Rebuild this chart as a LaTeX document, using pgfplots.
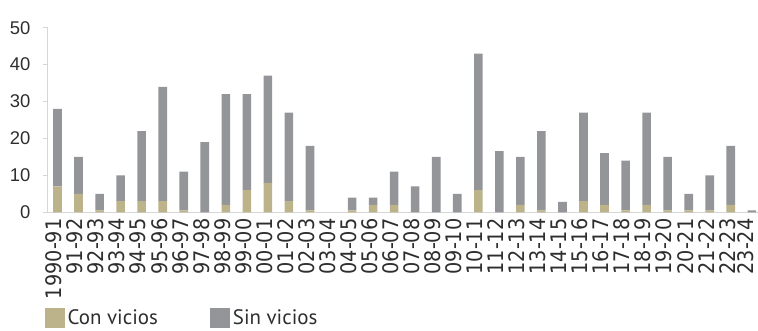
\documentclass[border=0pt]{standalone}
\usepackage{fontspec}
\setmainfont{Liberation Sans}
\newfontfamily\xlabfont{DejaVu Sans Condensed}
\newfontfamily\legfont{PT Sans}
\usepackage{pgfplots}
\usepackage{pgfplotstable}
\pgfplotsset{compat=1.18}

\definecolor{conv}{HTML}{BCB38A}
\definecolor{sinv}{HTML}{939598}
\definecolor{axisgray}{HTML}{D6D6D6}
\definecolor{txt}{HTML}{2E2E2E}

% Obras por campaña: con vicios / sin vicios
\pgfplotstableread{
x  con  sin
0  7    21
1  5    10
2  0.5  4.5
3  3    7
4  3    19
5  3    31
6  0.5  10.5
7  0    19
8  2    30
9  6    26
10 8    29
11 3    24
12 0.5  17.5
13 0    0
14 0.5  3.5
15 2    2
16 2    9
17 0    7
18 0    15
19 0    5
20 6    37
21 0    16.6
22 2    13
23 0.5  21.5
24 0    2.8
25 3    24
26 2    14
27 0.5  13.5
28 2    25
29 0.5  14.5
30 0.5  4.5
31 0.5  9.5
32 2    16
33 0    0.5
}\viciosdata

\begin{document}
\begin{tikzpicture}[x=1bp,y=1bp]
\useasboundingbox (0,0) rectangle (758,330);
\begin{axis}[
  at={(47.7bp,117.7bp)}, anchor=south west,
  scale only axis, width=710bp, height=184.6bp,
  ybar stacked, bar width=8.6bp,
  xmin=-0.466, xmax=33.28, ymin=0, ymax=50,
  axis x line=bottom, axis y line=left,
  axis line style={axisgray, line width=1.2bp, -},
  ytick={0,10,...,50},
  xtick={0,...,33},
  xticklabels={1990-91,91-92,92-93,93-94,94-95,95-96,96-97,97-98,98-99,99-00,
    00-01,01-02,02-03,03-04,04-05,05-06,06-07,07-08,08-09,09-10,10-11,11-12,
    12-13,13-14,14-15,15-16,16-17,17-18,18-19,19-20,20-21,21-22,22-23,
    \raisebox{-5.5bp}[0pt][0pt]{23-24}},
  tick align=outside,
  major tick length=5bp,
  xtick style={draw=none},
  ytick style={axisgray, line width=0.8bp},
  /pgf/number format/assume math mode=true,
  yticklabel style={font=\fontsize{18.5}{20}\selectfont, text=txt,
    anchor=east, inner sep=0pt, xshift=-12bp},
  xticklabel style={font=\xlabfont\fontsize{21.5}{24}\selectfont, text=txt,
    xshift=-3.5bp, yshift=-1bp, rotate=90, anchor=east, inner sep=0pt},
  legend image code/.code={\fill[#1] (0bp,-10bp) rectangle (20bp,10bp);},
  legend columns=2,
  legend style={at={(axis description cs:0,-0.5872)}, anchor=west,
    xshift=-3.2bp, yshift=2.5bp, draw=none, fill=none, inner sep=0pt,
    font=\legfont\fontsize{21}{24}\selectfont, text=txt,
    nodes={inner xsep=3bp, inner ysep=0pt},
    /tikz/every even column/.append style={column sep=49bp}},
]
\addplot[fill=conv, draw=none] table[x=x, y=con] {\viciosdata};
\addplot[fill=sinv, draw=none] table[x=x, y=sin] {\viciosdata};
\legend{Con vicios, Sin vicios}
\end{axis}
\end{tikzpicture}
\end{document}
